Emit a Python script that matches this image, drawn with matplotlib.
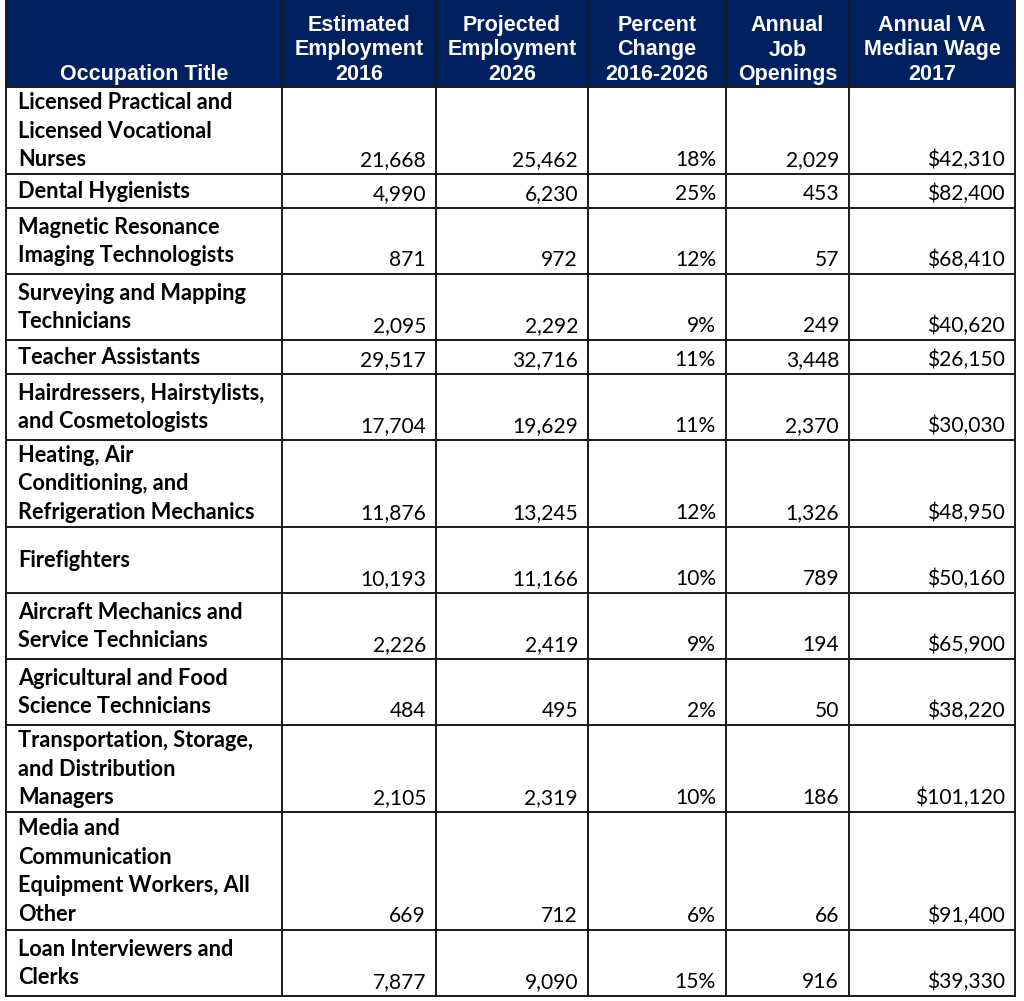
import matplotlib
matplotlib.use('Agg')
import matplotlib.pyplot as plt
from matplotlib.patches import Rectangle

# ---------------- data ----------------
headers = ["Occupation Title",
           "Estimated\nEmployment\n2016",
           "Projected\nEmployment\n2026",
           "Percent\nChange\n2016-2026",
           "Annual\nJob\nOpenings",
           "Annual VA\nMedian Wage\n2017"]

occupations = [
    "Licensed Practical and\nLicensed Vocational\nNurses",
    "Dental Hygienists",
    "Magnetic Resonance\nImaging Technologists",
    "Surveying and Mapping\nTechnicians",
    "Teacher Assistants",
    "Hairdressers, Hairstylists,\nand Cosmetologists",
    "Heating, Air\nConditioning, and\nRefrigeration Mechanics",
    "Firefighters",
    "Aircraft Mechanics and\nService Technicians",
    "Agricultural and Food\nScience Technicians",
    "Transportation, Storage,\nand Distribution\nManagers",
    "Media and\nCommunication\nEquipment Workers, All\nOther",
    "Loan Interviewers and\nClerks",
]
est_2016 = [21668, 4990, 871, 2095, 29517, 17704, 11876, 10193, 2226, 484, 2105, 669, 7877]
proj_2026 = [25462, 6230, 972, 2292, 32716, 19629, 13245, 11166, 2419, 495, 2319, 712, 9090]
pct_change = [18, 25, 12, 9, 11, 11, 12, 10, 9, 2, 10, 6, 15]
openings = [2029, 453, 57, 249, 3448, 2370, 1326, 789, 194, 50, 186, 66, 916]
wage = [42310, 82400, 68410, 40620, 26150, 30030, 48950, 50160, 65900, 38220, 101120, 91400, 39330]

# ---------------- layout ----------------
row_lines = [3, 1, 2, 2, 1, 2, 3, 2, 2, 2, 3, 4, 2]
line_h = {1: 34, 2: 66, 3: 87, 4: 118}
col_edges = [6, 282, 436, 588, 726, 849, 1015]
header_bottom = 87
navy = '#002060'
line_col = '#1a1a1a'
lw = 1.4

fig = plt.figure(figsize=(10.24, 10.01), dpi=100)
ax = fig.add_axes([0, 0, 1, 1])
ax.set_xlim(0, 1024)
ax.set_ylim(1001, 0)
ax.axis('off')
fig.canvas.draw()
renderer = fig.canvas.get_renderer()


def fit(text, target, **kw):
    t = ax.text(0, 0, text, fontsize=10, **kw)
    w = t.get_window_extent(renderer).width
    t.remove()
    return 10 * target / w

body_font = dict(family='Lato', weight='bold')
num_font = dict(family='Lato', weight='normal')
head_font = dict(family='Liberation Sans', weight='bold')

body_fs = fit("Licensed Practical and", 216, **body_font)
num_fs = fit("$42,310", 78, **num_font)
head_fs = fit("Median Wage", 137, **head_font)

# row boundaries
bounds = [header_bottom]
for n in row_lines:
    bounds.append(bounds[-1] + line_h[n])
bottom = bounds[-1]

# header background
ax.add_patch(Rectangle((col_edges[0], 0), col_edges[-1] - col_edges[0], header_bottom,
                       facecolor=navy, edgecolor='none', zorder=1))

# header text
for j, h in enumerate(headers):
    cx = (col_edges[j] + col_edges[j + 1]) / 2
    lines = h.split("\n")
    for k, ln in enumerate(lines):
        y = 80 - (len(lines) - 1 - k) * 24.5
        ax.text(cx, y, ln, ha='center', va='baseline', color='white',
                fontsize=head_fs, zorder=3, **head_font)

# grid lines
for x in col_edges:
    ax.plot([x, x], [0, bottom], color=line_col, lw=lw, zorder=4, solid_capstyle='projecting')
for y in bounds:
    ax.plot([col_edges[0], col_edges[-1]], [y, y], color=line_col, lw=lw, zorder=4,
            solid_capstyle='projecting')

# body
cols = [est_2016, proj_2026, pct_change, openings, wage]
fmts = [lambda v: f"{v:,}", lambda v: f"{v:,}", lambda v: f"{v}%",
        lambda v: f"{v:,}", lambda v: f"${v:,}"]
spacing = 28.5
for i, occ in enumerate(occupations):
    top, bot = bounds[i], bounds[i + 1]
    center = (top + bot) / 2
    lines = occ.split("\n")
    n = len(lines)
    for k, ln in enumerate(lines):
        y = center + (k - (n - 1) / 2) * spacing + 7
        ax.text(col_edges[0] + 12, y, ln, ha='left', va='baseline', color='black',
                fontsize=body_fs, zorder=3, **body_font)
    for j, (vals, f) in enumerate(zip(cols, fmts)):
        ax.text(col_edges[j + 2] - 10, bot - 8, f(vals[i]), ha='right', va='baseline',
                color='black', fontsize=num_fs, zorder=3, **num_font)

fig.savefig('out.png', dpi=100, facecolor='white')
